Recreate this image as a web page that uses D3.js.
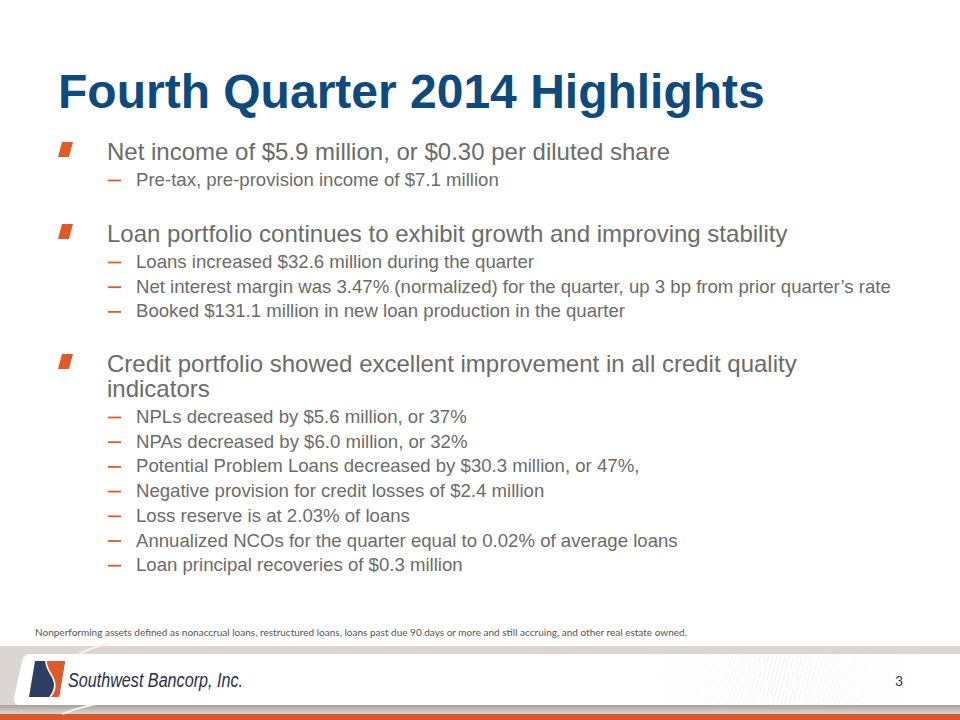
<!DOCTYPE html>
<html><head><meta charset="utf-8">
<script src="https://cdn.jsdelivr.net/npm/d3@7"></script>
<style>html,body{margin:0;padding:0;background:#fff;}svg{display:block;}</style>
</head><body>
<script>
const titleText = "Fourth Quarter 2014 Highlights";
const bulletHeads = [
  ["Net income of $5.9 million, or $0.30 per diluted share"],
  ["Loan portfolio continues to exhibit growth and improving stability"],
  ["Credit portfolio showed excellent improvement in all credit quality", "indicators"]
];
const bulletSubs = [
  ["Pre-tax, pre-provision income of $7.1 million"],
  ["Loans increased $32.6 million during the quarter",
   "Net interest margin was 3.47% (normalized) for the quarter, up 3 bp from prior quarter\u2019s rate",
   "Booked $131.1 million in new loan production in the quarter"],
  ["NPLs decreased by $5.6 million, or 37%",
   "NPAs decreased by $6.0 million, or 32%",
   "Potential Problem Loans decreased by $30.3 million, or 47%,",
   "Negative provision for credit losses of $2.4 million",
   "Loss reserve is at 2.03% of loans",
   "Annualized NCOs for the quarter equal to 0.02% of average loans",
   "Loan principal recoveries of $0.3 million"]
];
const footnoteText = "Nonperforming assets defined as nonaccrual loans, restructured loans, loans past due 90 days or more and still accruing, and other real estate owned.";
const companyName = "Southwest Bancorp, Inc.";
const pageNumber = "3";

const W = 960, H = 720;
const svg = d3.select("body").append("svg").attr("width", W).attr("height", H);
const ORANGE = "#e05a27", NAVY = "#0e4a7e", GRAY = "#6b6b6b";
const FONT = "Liberation Sans, Arial, sans-serif";

// title
svg.append("text").attr("x", 58).attr("y", 108)
  .attr("font-family", FONT).attr("font-weight", "bold")
  .attr("font-size", 48).attr("fill", NAVY).text(titleText);

// bullets
const groupStart = [160, 242, 372];
const headLH = 25, subFirst = 26, subLH = 24.7;
bulletHeads.forEach((lines, gi) => {
  const y0 = groupStart[gi];
  svg.append("path")
    .attr("d", d3.line()([[62, y0 - 18], [73, y0 - 18], [69, y0 - 3], [58, y0 - 3]]) + "Z")
    .attr("fill", ORANGE);
  lines.forEach((t, li) => {
    svg.append("text").attr("x", 107).attr("y", y0 + li * headLH)
      .attr("font-family", FONT)
      .attr("font-size", 24).attr("fill", GRAY).text(t);
  });
  const ys = y0 + (lines.length - 1) * headLH + subFirst;
  bulletSubs[gi].forEach((t, si) => {
    const y = ys + si * subLH;
    svg.append("line").attr("x1", 108).attr("x2", 121).attr("y1", y - 5.5).attr("y2", y - 5.5)
      .attr("stroke", ORANGE).attr("stroke-width", 1.8);
    svg.append("text").attr("x", 136).attr("y", y)
      .attr("font-family", FONT)
      .attr("font-size", 18.6).attr("fill", GRAY).text(t);
  });
});

// footnote
svg.append("text").attr("x", 35).attr("y", 636)
  .attr("font-family", "Lato, 'Open Sans', sans-serif").attr("font-size", 9.5)
  .attr("fill", "#555").attr("textLength", 652).attr("lengthAdjust", "spacingAndGlyphs")
  .text(footnoteText);

// footer band
const defs = svg.append("defs");
const pat = defs.append("pattern").attr("id", "hatch").attr("patternUnits", "userSpaceOnUse")
  .attr("width", 4).attr("height", 4).attr("patternTransform", "rotate(15)");
pat.append("line").attr("x1", 0).attr("y1", 0).attr("x2", 0).attr("y2", 4)
  .attr("stroke", "#e4e4e4").attr("stroke-width", 1);
const hg = defs.append("linearGradient").attr("id", "hfade").attr("x1", 0).attr("x2", 1);
hg.append("stop").attr("offset", "0").attr("stop-color", "#fff").attr("stop-opacity", 1);
hg.append("stop").attr("offset", "0.5").attr("stop-color", "#fff").attr("stop-opacity", 0);
hg.append("stop").attr("offset", "1").attr("stop-color", "#fff").attr("stop-opacity", 1);
const sg = defs.append("linearGradient").attr("id", "shadow").attr("x1", 0).attr("x2", 0).attr("y1", 0).attr("y2", 1);
sg.append("stop").attr("offset", "0").attr("stop-color", "#a9a19d");
sg.append("stop").attr("offset", "1").attr("stop-color", "#dcd6d3");

svg.append("rect").attr("x", 0).attr("y", 646).attr("width", W).attr("height", 68).attr("fill", "#dcd6d3");
svg.append("rect").attr("x", 0).attr("y", 705).attr("width", W).attr("height", 9).attr("fill", "url(#shadow)");
svg.append("rect").attr("x", 0).attr("y", 714).attr("width", W).attr("height", 6).attr("fill", "#d9592b");
// swooshes
svg.append("path").attr("d", "M70,660 C85,650 95,646 110,644").attr("fill", "none")
  .attr("stroke", "#f4f1ef").attr("stroke-width", 2);
svg.append("path").attr("d", "M62,714 C72,710 82,707 96,704").attr("fill", "none")
  .attr("stroke", "#f4f1ef").attr("stroke-width", 2);
// white panel
svg.append("path")
  .attr("d", "M30,654 L960,654 L960,705 L20,705 Q13,705 14,698 L22,661 Q24,654 30,654 Z")
  .attr("fill", "#fff");
svg.append("rect").attr("x", 640).attr("y", 654).attr("width", 290).attr("height", 51)
  .attr("fill", "url(#hatch)");
svg.append("rect").attr("x", 640).attr("y", 654).attr("width", 290).attr("height", 51)
  .attr("fill", "url(#hfade)");

// logo mark
const navyL = "#2c3e63", orangeL = "#e05a27";
svg.append("path").attr("d", "M35,661 L65,661 L59,697 L29,697 Z").attr("fill", navyL);
svg.append("path").attr("d", "M46,661 L65,661 L59,697 L50,697 C56,690 56,684 53,678 C50,672 46,668 46,661 Z").attr("fill", orangeL);
svg.append("path").attr("d", "M46,661 C46,668 50,672 53,678 C56,684 56,690 50,697").attr("fill", "none")
  .attr("stroke", "#fff").attr("stroke-width", 1.6);

svg.append("text").attr("x", 68).attr("y", 687)
  .attr("font-family", FONT).attr("font-style", "italic")
  .attr("font-size", 20).attr("fill", "#2b2f48")
  .attr("textLength", 175).attr("lengthAdjust", "spacingAndGlyphs").text(companyName);

svg.append("text").attr("x", 895).attr("y", 686)
  .attr("font-family", "Lato, 'Open Sans', sans-serif").attr("font-size", 14)
  .attr("fill", "#1f3a5c").text(pageNumber);
</script>
</body></html>
